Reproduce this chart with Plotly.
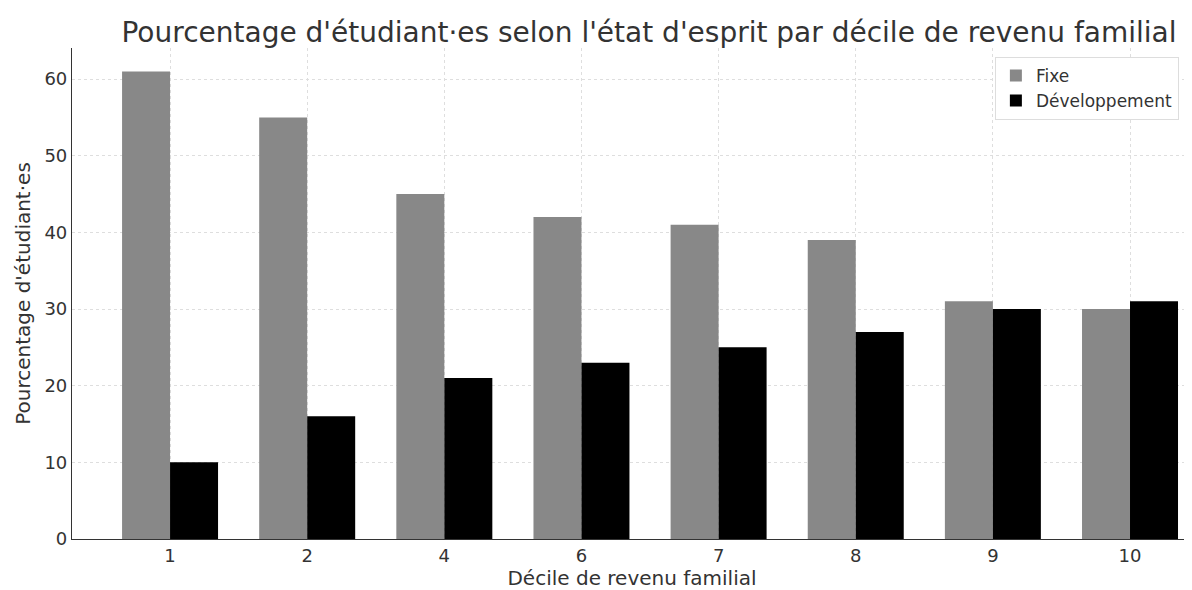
import plotly.graph_objects as go

deciles = ["1", "2", "4", "6", "7", "8", "9", "10"]
fixe = [61, 55, 45, 42, 41, 39, 31, 30]
developpement = [10, 16, 21, 23, 25, 27, 30, 31]

FONT = "DejaVu Sans"
TXT = "#333333"

fig = go.Figure()
fig.add_trace(go.Bar(x=deciles, y=fixe, name="Fixe", marker=dict(color="#888888", line=dict(width=0))))
fig.add_trace(go.Bar(x=deciles, y=developpement, name="Développement", marker=dict(color="#000000", line=dict(width=0))))

fig.update_layout(
    width=1184, height=582,
    margin=dict(l=64, r=0, t=40, b=51),
    paper_bgcolor="white", plot_bgcolor="white",
    barmode="group", bargap=0.3, bargroupgap=0,
    font=dict(family=FONT, color=TXT, size=18),
    title=dict(text="Pourcentage d'étudiant·es selon l'état d'esprit par décile de revenu familial",
               x=0.5414, xanchor="center", y=0.959, yanchor="middle",
               font=dict(family=FONT, size=28, color=TXT)),
    legend=dict(x=0.824, y=0.982, xanchor="left", yanchor="top",
                bgcolor="white", bordercolor="#dddddd", borderwidth=1,
                font=dict(family=FONT, size=17, color=TXT)),
    xaxis=dict(type="category", range=[-0.715, 7.452],
               title=dict(text="Décile de revenu familial", font=dict(size=20), standoff=4),
               showline=True, linecolor="#333333", linewidth=1.2,
               showgrid=True, gridcolor="#dedede", griddash="3px,3px", gridwidth=1,
               ticks="", tickfont=dict(size=18)),
    yaxis=dict(range=[0, 64.05], dtick=10,
               title=dict(text="Pourcentage d'étudiant·es", font=dict(size=20), standoff=8),
               showline=True, linecolor="#333333", linewidth=1.2,
               showgrid=True, gridcolor="#dedede", griddash="3px,3px", gridwidth=1,
               zeroline=False, ticks="", tickfont=dict(size=18)),
)

fig.write_html("out.html")
